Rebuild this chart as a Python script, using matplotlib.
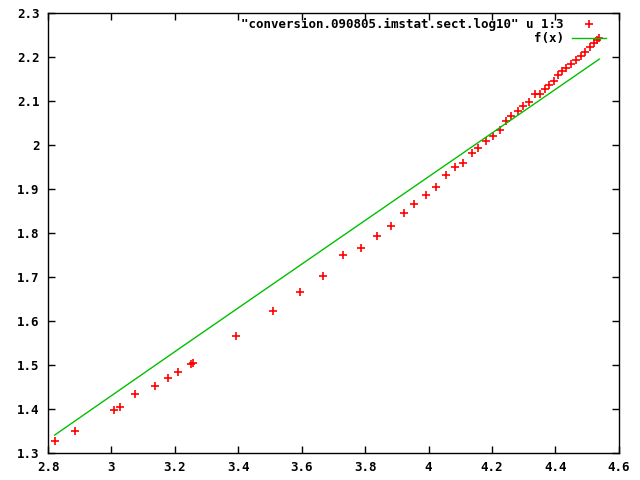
import matplotlib
matplotlib.use("Agg")
import matplotlib.pyplot as plt
from matplotlib.ticker import FuncFormatter

# data (log10 values)
x_data = [2.821, 2.884, 3.007, 3.026, 3.074, 3.138, 3.179, 3.210, 3.250, 3.257,
          3.394, 3.511, 3.595, 3.668, 3.731, 3.788, 3.838, 3.880, 3.922, 3.955,
          3.993, 4.022, 4.056, 4.084, 4.110, 4.136, 4.157, 4.182, 4.202, 4.226,
          4.244, 4.260, 4.282, 4.299, 4.317, 4.334, 4.350, 4.367, 4.380, 4.395,
          4.409, 4.422, 4.434, 4.450, 4.465, 4.479, 4.494, 4.509, 4.522, 4.531,
          4.538]
y_data = [1.327, 1.350, 1.399, 1.404, 1.434, 1.452, 1.470, 1.484, 1.502, 1.505,
          1.565, 1.622, 1.667, 1.702, 1.749, 1.765, 1.793, 1.817, 1.845, 1.866,
          1.886, 1.904, 1.931, 1.949, 1.960, 1.981, 1.993, 2.008, 2.021, 2.035,
          2.054, 2.065, 2.077, 2.089, 2.098, 2.115, 2.117, 2.127, 2.136, 2.146,
          2.159, 2.169, 2.176, 2.184, 2.194, 2.202, 2.212, 2.223, 2.231, 2.239,
          2.243]

# fitted line f(x), endpoints and middle
x_fit = [2.821, 3.215, 3.710, 4.538]
y_fit = [1.341, 1.538, 1.784, 2.195]

x_ticks = [2.8, 3.0, 3.2, 3.4, 3.6, 3.8, 4.0, 4.2, 4.4, 4.6]
y_ticks = [1.3, 1.4, 1.5, 1.6, 1.7, 1.8, 1.9, 2.0, 2.1, 2.2, 2.3]

plt.rcParams['font.family'] = 'DejaVu Sans Mono'
plt.rcParams['font.weight'] = 'bold'
plt.rcParams['font.size'] = 9

fig = plt.figure(figsize=(6.4, 4.8), dpi=100)
ax = fig.add_axes([0.075, 0.056, 0.892, 0.917])

ax.plot(x_data, y_data, linestyle='none', marker='+', color='#ff0000',
        markersize=6, markeredgewidth=1.2,
        label='"conversion.090805.imstat.sect.log10" u 1:3')
ax.plot(x_fit, y_fit, color='#00c000', linewidth=1, label='f(x)')

ax.set_xlim(2.8, 4.6)
ax.set_ylim(1.3, 2.3)
ax.set_xticks(x_ticks)
ax.set_yticks(y_ticks)

fmt = FuncFormatter(lambda v, p: ('%g' % round(v, 2)))
ax.xaxis.set_major_formatter(fmt)
ax.yaxis.set_major_formatter(fmt)

ax.tick_params(direction='in', top=True, right=True, length=5, width=1,
               labelsize=9, pad=6)
for s in ax.spines.values():
    s.set_linewidth(1)

leg = ax.legend(loc='upper right', bbox_to_anchor=(0.977, 0.988),
                frameon=False, markerfirst=False, borderpad=0,
                handlelength=2.7, handletextpad=0.65, labelspacing=0.05,
                borderaxespad=0, prop={'family': 'DejaVu Sans Mono',
                                       'weight': 'bold', 'size': 9})

fig.savefig('out.png', dpi=100)
